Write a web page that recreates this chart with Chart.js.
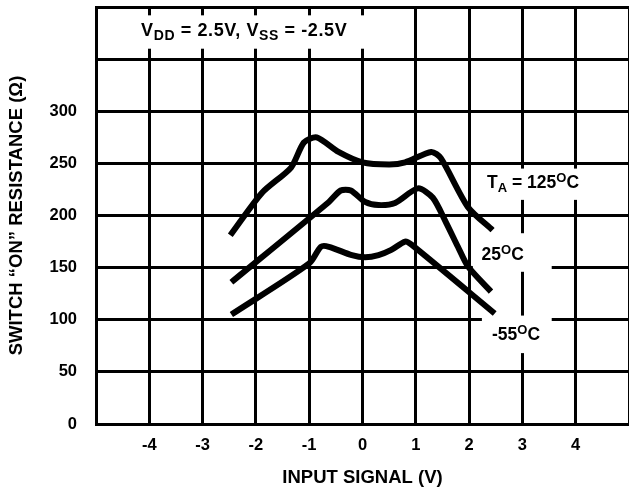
<!DOCTYPE html>
<html>
<head>
<meta charset="utf-8">
<script src="https://cdn.jsdelivr.net/npm/chart.js@4"></script>
<style>
  body { margin: 0; background: #fff; }
</style>
</head>
<body>
<canvas id="my-chart" width="629" height="491"></canvas>
<script>
// input signal (V) / switch on resistance (ohm) for each temperature
var x125 = [-2.48, -1.88, -1.34, -1.1, -0.86, -0.45, 0, 0.5, 0.8, 1.29, 1.47, 1.98, 2.44];
var r125 = [181, 222, 246, 270, 275, 261, 251, 249, 251, 261, 255, 208, 186];
var x25 = [-2.46, -0.63, -0.41, -0.22, 0.05, 0.3, 0.61, 1.04, 1.32, 1.57, 1.79, 1.98, 2.41];
var r25 = [136, 213, 224, 224, 213, 210, 212, 226, 217, 193, 170, 151, 127];
var x55 = [-2.46, -1.0, -0.78, -0.63, -0.2, 0.05, 0.3, 0.54, 0.8, 0.92, 2.48];
var r55 = [105, 154, 170, 170, 162, 160, 162, 167, 175, 172, 106];

var xTicks = [-4, -3, -2, -1, 0, 1, 2, 3, 4];
var yTicks = [0, 50, 100, 150, 200, 250, 300];

function pts(xs, ys) {
    return xs.map(function (v, i) { return { x: v, y: ys[i] }; });
}

var FONT = '"Liberation Sans", Arial, sans-serif';

// draw text with sub/superscript parts, centred on cx, cy
function rich(ctx, parts, cx, cy, big, small, spacing) {
    ctx.letterSpacing = (spacing || 0) + 'px';
    var w = 0;
    parts.forEach(function (p) {
        ctx.font = 'bold ' + (p[1] ? small : big) + 'px ' + FONT;
        w += ctx.measureText(p[0]).width;
    });
    var x = cx - w / 2;
    ctx.textBaseline = 'middle';
    ctx.textAlign = 'left';
    parts.forEach(function (p) {
        ctx.font = 'bold ' + (p[1] ? small : big) + 'px ' + FONT;
        ctx.fillText(p[0], x, cy + p[1] * 5);
        x += ctx.measureText(p[0]).width;
    });
    ctx.letterSpacing = '0px';
}

var notes = {
    id: 'notes',
    beforeDatasetsDraw: function (chart) {
        var ctx = chart.ctx, sx = chart.scales.x, sy = chart.scales.y;
        function box(x0, x1, y0, y1) {
            var a = sx.getPixelForValue(x0), b = sx.getPixelForValue(x1);
            var c = sy.getPixelForValue(y1), d = sy.getPixelForValue(y0);
            ctx.fillRect(a, c, b - a, d - c);
        }
        ctx.save();
        ctx.fillStyle = '#fff';
        box(-4.95, 0.6, 360, 392);
        box(2.45, 4.5, 215, 245);
        box(2.07, 3.55, 146, 183);
        box(2.24, 3.55, 68, 104);
        ctx.fillStyle = '#000';
        rich(ctx, [['V', 0], ['DD', 1], [' = 2.5V, V', 0], ['SS', 1], [' = -2.5V', 0]],
            sx.getPixelForValue(-2.22), sy.getPixelForValue(377), 18, 14, 0.6);
        rich(ctx, [['T', 0], ['A', 1], [' = 125', 0], ['O', -1], ['C', 0]],
            sx.getPixelForValue(3.2), sy.getPixelForValue(231), 17.5, 13);
        rich(ctx, [['25', 0], ['O', -1], ['C', 0]],
            sx.getPixelForValue(2.63), sy.getPixelForValue(162), 17.5, 13);
        rich(ctx, [['-55', 0], ['O', -1], ['C', 0]],
            sx.getPixelForValue(2.88), sy.getPixelForValue(85), 17.5, 13);
        ctx.restore();
    }
};

var curve = {
    borderColor: '#000',
    borderWidth: 6,
    borderCapStyle: 'butt',
    borderJoinStyle: 'round',
    pointRadius: 0,
    fill: false,
    tension: 0.25
};

function noPad(s) {
    s.paddingLeft = 0;
    s.paddingRight = 0;
    s.paddingTop = 0;
    s.paddingBottom = 0;
}

var ctx = document.getElementById('my-chart').getContext('2d');
var chart = new Chart(ctx, {
    type: 'line',
    data: {
        datasets: [
            Object.assign({ label: '125C', data: pts(x125, r125) }, curve),
            Object.assign({ label: '25C', data: pts(x25, r25) }, curve),
            Object.assign({ label: '-55C', data: pts(x55, r55) }, curve)
        ]
    },
    plugins: [notes],
    options: {
        responsive: false,
        animation: false,
        devicePixelRatio: 1,
        layout: { padding: { top: 7, right: -3, left: 0, bottom: 0 } },
        plugins: { legend: { display: false }, tooltip: { enabled: false } },
        scales: {
            x: {
                type: 'linear',
                min: -5,
                max: 5,
                afterFit: function (s) { s.height = 67; noPad(s); },
                afterBuildTicks: function (s) {
                    s.ticks = [-5].concat(xTicks, [5]).map(function (v) { return { value: v }; });
                },
                ticks: {
                    color: '#000',
                    padding: 12,
                    maxRotation: 0,
                    font: { family: FONT, size: 16.5, weight: 'bold' },
                    callback: function (v) { return xTicks.indexOf(v) >= 0 ? String(v) : ''; }
                },
                grid: { color: '#000', lineWidth: 3, drawTicks: false },
                border: { color: '#000', width: 3 },
                title: {
                    display: true,
                    text: 'INPUT SIGNAL (V)',
                    color: '#000',
                    font: { family: FONT, size: 18.5, weight: 'bold' },
                    padding: { top: 0, bottom: 2 }
                }
            },
            y: {
                min: 0,
                max: 400,
                afterFit: function (s) { s.width = 96; noPad(s); },
                afterBuildTicks: function (s) {
                    s.ticks = yTicks.concat([350, 400]).map(function (v) { return { value: v }; });
                },
                ticks: {
                    color: '#000',
                    padding: 19,
                    font: { family: FONT, size: 16.5, weight: 'bold' },
                    callback: function (v) { return yTicks.indexOf(v) >= 0 ? String(v) : ''; }
                },
                grid: { color: '#000', lineWidth: 3, drawTicks: false },
                border: { color: '#000', width: 3 },
                title: {
                    display: true,
                    text: 'SWITCH \u201cON\u201d RESISTANCE (\u03a9)',
                    color: '#000',
                    font: { family: FONT, size: 18.5, weight: 'bold' },
                    padding: { top: 6, bottom: 0 }
                }
            }
        }
    }
});
</script>
</body>
</html>
